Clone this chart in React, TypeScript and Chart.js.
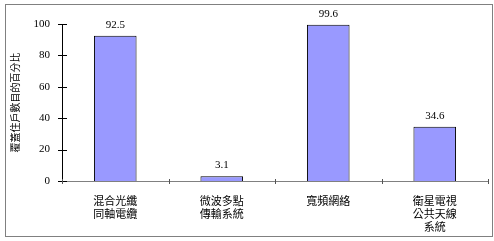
import React, { useEffect, useRef } from "react";
import { Chart, registerables } from "chart.js";

Chart.register(...registerables);

const categories: (string | string[])[] = [
  ["混合光纖", "同軸電纜"],
  ["微波多點", "傳輸系統"],
  "寬頻網絡",
  ["衛星電視", "公共天線", "系統"],
];
const values: number[] = [92.5, 3.1, 99.6, 34.6];
const valueLabels: string[] = ["92.5", "3.1", "99.6", "34.6"];
const yTicks: number[] = [0, 20, 40, 60, 80, 100];
const yTitle = "覆蓋住戶數目的百分比";

const SERIF = "'Liberation Serif', 'DejaVu Serif', serif";
const CJK = "'Noto Sans CJK TC', 'Noto Sans CJK SC', sans-serif";

export default function App() {
  const ref = useRef<HTMLCanvasElement | null>(null);

  useEffect(() => {
    const canvas = ref.current;
    if (!canvas) return;

    const decor = {
      id: "decor",
      beforeDraw(chart: any) {
        const ctx = chart.ctx;
        ctx.save();
        ctx.fillStyle = "#ffffff";
        ctx.fillRect(0, 0, chart.width, chart.height);
        ctx.strokeStyle = "#808080";
        ctx.lineWidth = 1;
        ctx.strokeRect(5.5, 4.5, 487, 232);
        ctx.restore();
      },
      afterDraw(chart: any) {
        const ctx = chart.ctx;
        const ys = chart.scales.y;
        const xs = chart.scales.x;
        ctx.save();
        ctx.lineWidth = 1;
        ctx.strokeStyle = "#000000";
        for (const v of yTicks) {
          const y = Math.round(ys.getPixelForValue(v)) + 0.5;
          ctx.beginPath();
          ctx.moveTo(ys.right - 4, y);
          ctx.lineTo(ys.right + 5, y);
          ctx.stroke();
        }
        const n = categories.length;
        const w = xs.width / n;
        ctx.strokeStyle = "#555555";
        for (let i = 0; i <= n; i++) {
          const x = Math.round(xs.left + i * w) + 0.5;
          ctx.beginPath();
          ctx.moveTo(x, xs.top - 2);
          ctx.lineTo(x, xs.top + 3);
          ctx.stroke();
        }
        // value labels
        const meta = chart.getDatasetMeta(0);
        ctx.fillStyle = "#000000";
        ctx.font = `11px ${SERIF}`;
        ctx.textAlign = "center";
        ctx.textBaseline = "middle";
        meta.data.forEach((el: any, i: number) => {
          ctx.fillText(valueLabels[i], el.x, el.y - 11);
        });
        ctx.restore();
      },
    };

    const chart = new Chart(canvas, {
      type: "bar",
      data: {
        labels: categories,
        datasets: [
          {
            data: values,
            backgroundColor: "#9999ff",
            borderColor: "#000000",
            borderWidth: 1,
            barPercentage: 0.8,
            categoryPercentage: 0.5,
          },
        ],
      },
      options: {
        responsive: false,
        animation: false,
        devicePixelRatio: 1,
        layout: { padding: { left: 0, right: 6, top: 24, bottom: 0 } },
        plugins: {
          legend: { display: false },
          tooltip: { enabled: false },
        },
        scales: {
          x: {
            grid: { display: false, drawTicks: false },
            border: { display: true, color: "#808080", width: 1 },
            ticks: {
              color: "#000000",
              font: { family: CJK, size: 11, lineHeight: 1.2 },
              padding: 13,
              maxRotation: 0,
              autoSkip: false,
            },
            afterFit(scale: any) {
              scale.height = 60;
            },
          },
          y: {
            min: 0,
            max: 100,
            grid: { display: false, drawTicks: false },
            border: { display: true, color: "#000000", width: 1 },
            ticks: {
              stepSize: 20,
              color: "#000000",
              font: { family: SERIF, size: 11 },
              padding: 12,
            },
            title: {
              display: true,
              text: yTitle,
              color: "#000000",
              font: { family: CJK, size: 10 },
              padding: { top: 9, bottom: 0 },
            },
            afterFit(scale: any) {
              scale.width = 62;
            },
          },
        },
      },
      plugins: [decor],
    } as any);

    return () => chart.destroy();
  }, []);

  return (
    <div style={{ position: "absolute", left: 0, top: 0, width: 494, height: 241 }}>
      <canvas ref={ref} width={494} height={241} style={{ display: "block" }} />
    </div>
  );
}
